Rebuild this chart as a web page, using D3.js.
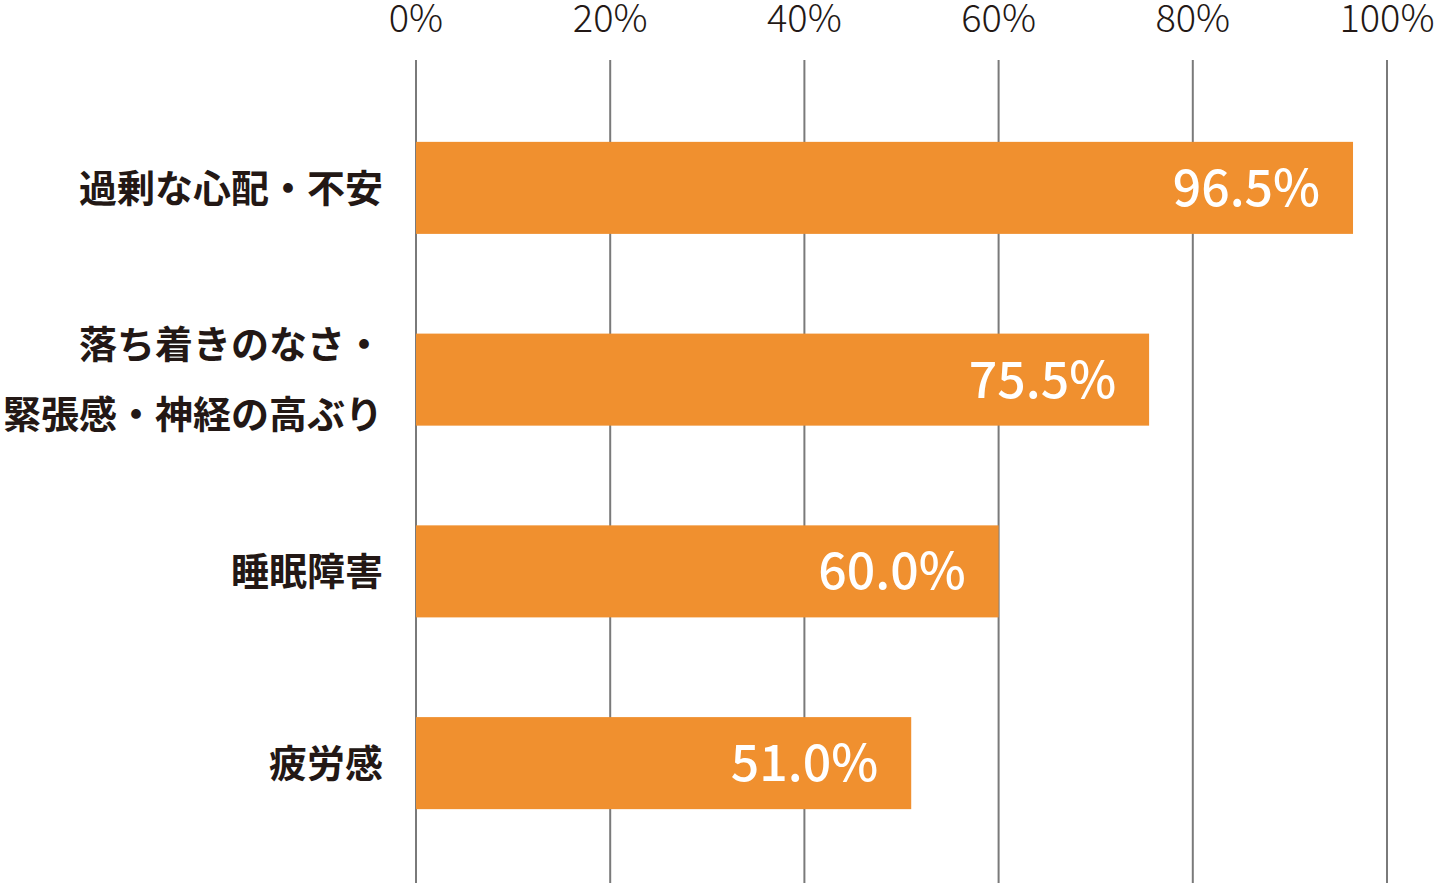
<!DOCTYPE html>
<html>
<head>
<meta charset="utf-8">
<script src="https://cdn.jsdelivr.net/npm/d3@7"></script>
<style>
  html, body { margin: 0; padding: 0; background: #fff; }
  svg { display: block; }
</style>
</head>
<body>
<svg width="1439" height="883"></svg>
<script>
// categories (each entry is one or two label lines)
var categories = ['過剰な心配・不安', '落ち着きのなさ・緊張感・神経の高ぶり', '睡眠障害', '疲労感'];
var categoryLines = [
    ['過剰な心配・不安'],
    ['落ち着きのなさ・', '緊張感・神経の高ぶり'],
    ['睡眠障害'],
    ['疲労感']
];
var values = [96.5, 75.5, 60.0, 51.0];
var tickValues = [0, 20, 40, 60, 80, 100];

var svg = d3.select('svg'),
    font = '"Noto Sans CJK JP", "Noto Sans", sans-serif',
    barColor = '#F0902F',
    textColor = '#231815';

var x = d3.scaleLinear()
    .domain([0, 100])
    .range([416, 1387]);

var y = d3.scaleBand()
    .domain(categories)
    .range([92, 859])
    .paddingInner(0.52)
    .paddingOuter(0.26);

// grid lines
svg.append('g')
    .selectAll('line')
    .data(tickValues)
    .enter()
    .append('line')
    .attr('x1', function (d) { return x(d); })
    .attr('x2', function (d) { return x(d); })
    .attr('y1', 60)
    .attr('y2', 883)
    .attr('stroke', '#7a7a7a')
    .attr('stroke-width', 2);

// tick labels on top
svg.append('g')
    .selectAll('text')
    .data(tickValues)
    .enter()
    .append('text')
    .attr('x', function (d) { return x(d); })
    .attr('y', 18)
    .attr('dy', '0.36em')
    .attr('text-anchor', 'middle')
    .attr('font-family', font)
    .attr('font-weight', 300)
    .attr('font-size', 38)
    .attr('fill', textColor)
    .text(function (d) { return d + '%'; });

// bars
svg.append('g')
    .selectAll('rect')
    .data(values)
    .enter()
    .append('rect')
    .attr('x', x(0))
    .attr('y', function (d, i) { return y(categories[i]); })
    .attr('width', function (d) { return x(d) - x(0); })
    .attr('height', y.bandwidth())
    .attr('fill', barColor);

// value labels
svg.append('g')
    .selectAll('text')
    .data(values)
    .enter()
    .append('text')
    .attr('x', function (d) { return x(d) - 33; })
    .attr('y', function (d, i) { return y(categories[i]) + y.bandwidth() / 2; })
    .attr('dy', '0.36em')
    .attr('text-anchor', 'end')
    .attr('font-family', font)
    .attr('font-weight', 500)
    .attr('font-size', 50)
    .attr('fill', '#fff')
    .text(function (d) { return d.toFixed(1) + '%'; });

// category labels
var labels = svg.append('g')
    .selectAll('text')
    .data(categories)
    .enter()
    .append('text')
    .attr('text-anchor', 'end')
    .attr('font-family', font)
    .attr('font-weight', 700)
    .attr('font-size', 38)
    .attr('fill', textColor);

labels.each(function (d, i) {
    var lines = categoryLines[i],
        cy = y(d) + y.bandwidth() / 2,
        lineGap = 70,
        top = cy - (lines.length - 1) * lineGap / 2;

    d3.select(this)
        .selectAll('tspan')
        .data(lines)
        .enter()
        .append('tspan')
        .attr('x', 383)
        .attr('y', function (l, j) { return top + j * lineGap; })
        .attr('dy', '0.36em')
        .text(function (l) { return l; });
});
</script>
</body>
</html>
